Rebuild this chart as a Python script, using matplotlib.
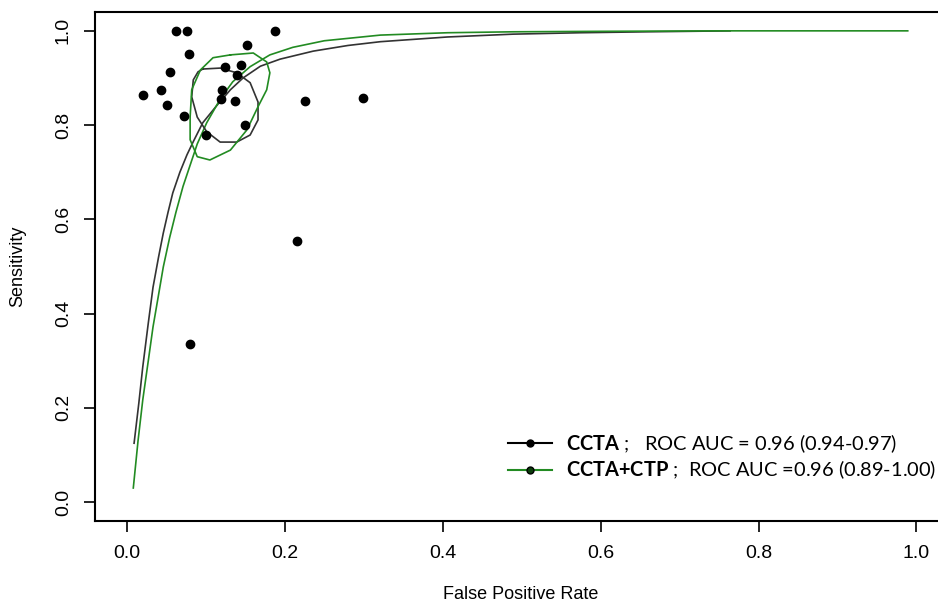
import matplotlib
matplotlib.use('Agg')
import matplotlib.pyplot as plt
from matplotlib.lines import Line2D

# study points (false positive rate, sensitivity)
fpr_pts = [0.020, 0.062, 0.076, 0.078, 0.054, 0.043, 0.051, 0.072, 0.100, 0.124,
           0.145, 0.152, 0.139, 0.120, 0.119, 0.137, 0.150, 0.188, 0.226, 0.299,
           0.215, 0.080]
sens_pts = [0.864, 1.000, 1.000, 0.951, 0.913, 0.875, 0.843, 0.820, 0.779, 0.923,
            0.928, 0.970, 0.907, 0.875, 0.856, 0.851, 0.800, 1.000, 0.851, 0.858,
            0.554, 0.335]

# SROC curves
ccta_x = [0.009, 0.015, 0.020, 0.027, 0.033, 0.040, 0.046, 0.052, 0.058, 0.067,
          0.076, 0.084, 0.096, 0.114, 0.131, 0.147, 0.169, 0.194, 0.236, 0.280,
          0.321, 0.406, 0.489, 0.574, 0.660, 0.764]
ccta_y = [0.125, 0.210, 0.287, 0.380, 0.456, 0.520, 0.571, 0.615, 0.656, 0.700,
          0.737, 0.765, 0.805, 0.842, 0.875, 0.900, 0.925, 0.940, 0.957, 0.969,
          0.977, 0.987, 0.993, 0.996, 0.998, 1.000]
ctp_x = [0.008, 0.014, 0.020, 0.027, 0.033, 0.040, 0.046, 0.054, 0.062, 0.071,
         0.080, 0.089, 0.101, 0.118, 0.134, 0.156, 0.181, 0.210, 0.250, 0.321,
         0.406, 0.489, 0.600, 0.750, 0.989]
ctp_y = [0.030, 0.130, 0.217, 0.300, 0.372, 0.440, 0.499, 0.561, 0.615, 0.670,
         0.715, 0.760, 0.805, 0.855, 0.892, 0.924, 0.949, 0.965, 0.979, 0.991,
         0.996, 0.998, 0.999, 1.000, 1.000]

# confidence regions
ccta_ell_x = [0.096, 0.118, 0.139, 0.156, 0.166, 0.166, 0.156, 0.139, 0.118, 0.101,
              0.089, 0.082, 0.084, 0.090, 0.096]
ccta_ell_y = [0.919, 0.921, 0.911, 0.890, 0.849, 0.811, 0.779, 0.764, 0.764, 0.786,
              0.817, 0.860, 0.896, 0.913, 0.919]
ctp_ell_x = [0.131, 0.160, 0.177, 0.181, 0.177, 0.166, 0.152, 0.131, 0.105, 0.089,
             0.080, 0.080, 0.082, 0.093, 0.109, 0.131]
ctp_ell_y = [0.949, 0.953, 0.934, 0.911, 0.875, 0.839, 0.790, 0.747, 0.726, 0.733,
             0.769, 0.817, 0.875, 0.917, 0.943, 0.949]

labels = [r'$\mathbf{CCTA}$ ;   ROC AUC = 0.96 (0.94-0.97)',
          r'$\mathbf{CCTA{+}CTP}$ ;  ROC AUC =0.96 (0.89-1.00)']

GREEN = '#228B22'
DARK = '#333333'

plt.rcParams['mathtext.fontset'] = 'custom'
plt.rcParams['mathtext.bf'] = 'Lato:bold'
plt.rcParams['mathtext.rm'] = 'Lato'
plt.rcParams['font.family'] = ['Liberation Sans', 'DejaVu Sans']

fig = plt.figure(figsize=(9.38, 6.07), dpi=100)
ax = fig.add_axes([95.4 / 938, 86 / 607, 852.6 / 938, 509 / 607])

ax.plot(ccta_x, ccta_y, color=DARK, lw=1.2)
ax.plot(ctp_x, ctp_y, color=GREEN, lw=1.2)
ax.plot(ccta_ell_x, ccta_ell_y, color=DARK, lw=1.2)
ax.plot(ctp_ell_x, ctp_ell_y, color=GREEN, lw=1.2)
ax.plot(fpr_pts, sens_pts, 'o', color='black', ms=6, ls='none')

ax.set_xlim(-0.04, 1.04)
ax.set_ylim(-0.04, 1.04)
ticks = [0.0, 0.2, 0.4, 0.6, 0.8, 1.0]
ax.set_xticks(ticks)
ax.set_yticks(ticks)
ax.set_xticklabels([f'{t:.1f}' for t in ticks], fontsize=14)
ax.set_yticklabels([f'{t:.1f}' for t in ticks], fontsize=14, rotation=90, va='center')
ax.tick_params(direction='out', length=8, width=1.2, pad=9)
for s in ax.spines.values():
    s.set_linewidth(1.5)

ax.set_xlabel('False Positive Rate', fontsize=13, va='center')
ax.xaxis.set_label_coords(0.499, -0.145)
ax.set_ylabel('Sensitivity', fontsize=13, va='center')
ax.yaxis.set_label_coords(-0.0908, 0.5)

handles = [Line2D([], [], color='black', lw=1.5, marker='o', ms=5),
           Line2D([], [], color=GREEN, lw=1.5, marker='o', ms=5, mfc='#0b3d0b', mec='black')]
fig.legend(handles, labels, loc='upper left', bbox_to_anchor=(508 / 938, (607 - 432) / 607),
           frameon=False, prop={'family': 'Lato', 'size': 14.4}, borderpad=0,
           handlelength=2.2, handletextpad=0.7, labelspacing=0.2, borderaxespad=0)

fig.savefig('out.png', dpi=100)
